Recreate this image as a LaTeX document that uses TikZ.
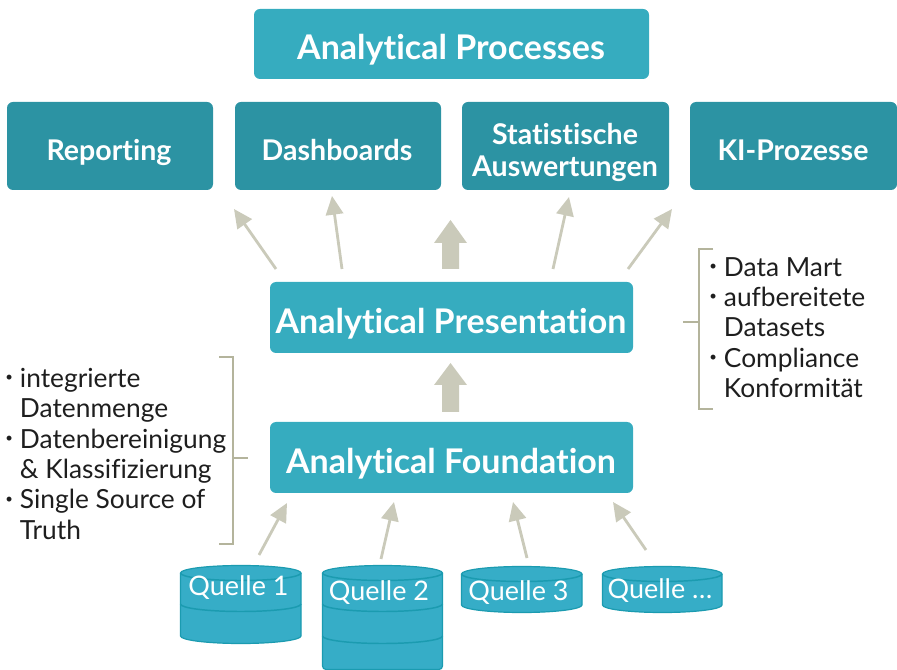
\documentclass[tikz,border=0pt]{standalone}
\usepackage{fontspec}
\setmainfont{Lato}[Ligatures=CommonOff]
\usetikzlibrary{arrows.meta}
\definecolor{boxa}{HTML}{36ACBF}
\definecolor{boxb}{HTML}{2C93A3}
\definecolor{cyl}{HTML}{36ADC7}
\definecolor{cyledge}{HTML}{1B9BB0}
\definecolor{arrowc}{HTML}{CACABA}
\definecolor{brack}{HTML}{B4B49C}
\definecolor{txt}{HTML}{1E1E1E}
\newcommand{\bul}{\makebox[11pt][l]{\raisebox{0.22em}{\scalebox{0.5}{\textbullet}}}}
\newcommand{\ind}{\hspace*{11pt}}
\tikzset{
  x=0.75pt,y=-0.75pt,
  procbox/.style={fill=boxa,rounded corners=4.5pt},
  subbox/.style={fill=boxb,rounded corners=4.5pt},
  proclabel/.style={text=white,inner sep=0pt,font=\fontsize{25.5pt}{29pt}\selectfont\bfseries},
  sublabel/.style={text=white,inner sep=0pt,align=center,font=\fontsize{21.4pt}{24pt}\selectfont\bfseries},
  thinarrow/.style={draw=arrowc,line width=2.1pt,-{Triangle[length=14pt,width=13pt]}},
  blockarrow/.style={fill=arrowc,draw=none},
  bracketline/.style={draw=brack,line width=1.8pt},
  bodytext/.style={text=txt,inner sep=0pt,align=left,anchor=north west,font=\fontsize{19.75pt}{22.75pt}\selectfont},
  cylbody/.style={fill=cyl,draw=cyledge,line width=0.9pt},
  cylline/.style={draw=cyledge,line width=1.1pt},
  cyltext/.style={text=white,inner sep=0pt,font=\fontsize{20.2pt}{22pt}\selectfont},
}
\begin{document}
\begin{tikzpicture}
\useasboundingbox (0,0) rectangle (897,670);
% boxes
\path[procbox] (254,9) rectangle (649,79);
\node[proclabel] (ap) at (451,50) {Analytical Processes};
\path[subbox] (7,102) rectangle (213,190);
\path[subbox] (235,102) rectangle (441,190);
\path[subbox] (462,102) rectangle (669,190);
\path[subbox] (690,102) rectangle (897,190);
\node[sublabel] (rep) at (109,152) {Reporting};
\node[sublabel] (dash) at (337,150) {Dashboards};
\node[sublabel] (stat) at (565,152) {Statistische\\Auswertungen};
\node[sublabel] (ki) at (793,150) {KI-Prozesse};
\path[procbox] (270,282) rectangle (633,353);
\path[procbox] (270,422) rectangle (633,493);
\node[proclabel] (pres) at (451,324) {Analytical Presentation};
\node[proclabel] (found) at (451,464) {Analytical Foundation};
% block arrows
\fill[blockarrow] (450.5,220) -- (467,243) -- (459,243) -- (459,269) -- (442,269) -- (442,243) -- (434,243) -- cycle;
\fill[blockarrow] (450.5,363) -- (467,385) -- (459,385) -- (459,412) -- (442,412) -- (442,385) -- (434,385) -- cycle;
% thin arrows
\foreach \n/\ax/\ay/\bx/\by in {a/276/269/234/209,b/342/269/332/196,c/553/269/569/197,d/628/269/672/209,e/259/555/287/503,f/381/559/394/502,g/527/558/513/502,h/646/550/613/502}{
  \coordinate (s\n) at (\ax,\ay);
  \coordinate (t\n) at (\bx,\by);
  \draw[thinarrow] (s\n) -- (t\n);
}
% brackets
\draw[bracketline] (219,357) -- (233,357) -- (233,544) -- (219,544);
\draw[bracketline] (233,458) -- (248,458);
\draw[bracketline] (713,249) -- (699,249) -- (699,409) -- (713,409);
\draw[bracketline] (699,322) -- (683,322);
% lists
\node[bodytext] (left) at (5,368) {\bul integrierte\\\ind Datenmenge\\\bul Datenbereinigung\\\ind \&\ Klassifizierung\\\bul Single Source of\\\ind Truth};
\node[bodytext] (right) at (709,257) {\bul Data Mart\\\bul aufbereitete\\\ind Datasets\\\bul Compliance\\\ind Konformität};
% cylinders
\newcommand{\cylinder}[6]{% x1,x2,top mid,bottom edge,ry,list of dividers
  \path[cylbody] (#1,#3) arc[start angle=180,end angle=0,x radius={(#2-#1)/2},y radius=-#5] -- (#2,#4) arc[start angle=0,end angle=-180,x radius={(#2-#1)/2},y radius=-#5] -- cycle;
  \draw[cylline] (#1,#3) arc[start angle=180,end angle=360,x radius={(#2-#1)/2},y radius=-#5];
  \foreach \d in {#6}{\draw[cylline] (#1,\d) arc[start angle=180,end angle=360,x radius={(#2-#1)/2},y radius=-#5];}
}
\cylinder{180.5}{301}{573}{636}{7.5}{604}
\cylinder{461.5}{582}{574}{605}{7.5}{}
\cylinder{602.5}{722}{574}{605}{7.5}{}
\path[cylbody] (322.5,573) arc[start angle=180,end angle=0,x radius=60,y radius=-7.5] -- (442.5,666) arc[start angle=0,end angle=-90,x radius=3.5,y radius=-3.5] -- (326,669.5) arc[start angle=270,end angle=180,x radius=3.5,y radius=-3.5] -- cycle;
\draw[cylline] (322.5,573) arc[start angle=180,end angle=360,x radius=60,y radius=-7.5];
\draw[cylline] (322.5,604) arc[start angle=180,end angle=360,x radius=60,y radius=-7.5];
\draw[cylline] (322.5,636) arc[start angle=180,end angle=360,x radius=60,y radius=-7.5];
\node[cyltext] (q1) at (238.5,588) {Quelle 1};
\node[cyltext] (q2) at (379,593) {Quelle 2};
\node[cyltext] (q3) at (518.5,593) {Quelle 3};
\node[cyltext] (q4) at (660,591) {Quelle …};
\end{tikzpicture}
\end{document}
